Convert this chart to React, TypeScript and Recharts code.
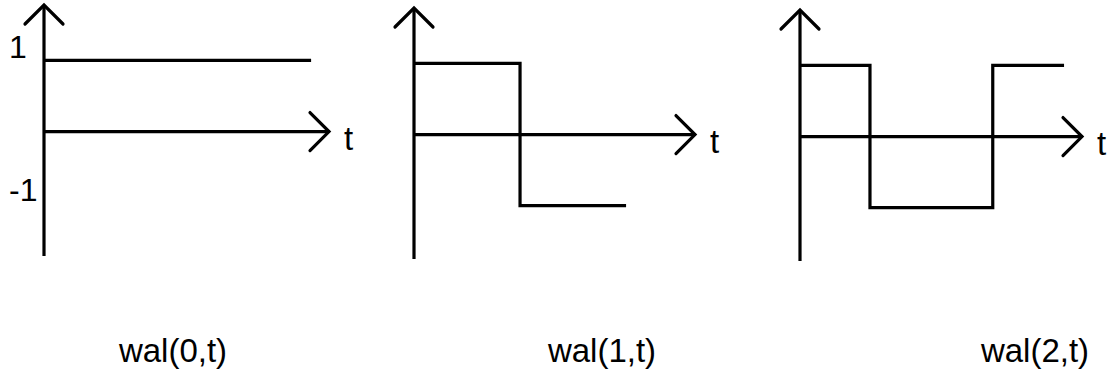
import { LineChart, Line, XAxis, YAxis, ReferenceLine } from "recharts";

// Walsh functions: breakpoints in t and the level that holds from each one on
const WAL0_T = [0, 1];
const WAL0_V = [1, 1];
const WAL1_T = [0, 0.5, 1];
const WAL1_V = [1, -1, -1];
const WAL2_T = [0, 0.265, 0.73, 1];
const WAL2_V = [1, -1, 1, 1];

const TITLES = ["wal(0,t)", "wal(1,t)", "wal(2,t)"];
const LEVEL_TICKS = [1, -1];
const AXIS_CAPTION = "t";

// where the t axis arrow ends, in units of t
const T_AXIS_END = [1.067, 1.325, 1.068];
const V_AXIS_TOP = 1.78;
const V_AXIS_BOTTOM = -1.75;

const INK = "#000";
const STROKE = 3.2;
const FONT = "'Liberation Sans', Arial, Helvetica, sans-serif";
const ARROW = 19;
const PLOT_H = 251;
const PAD = 6;

type Row = { t: number; v: number };

const toRows = (ts: number[], vs: number[]): Row[] =>
  ts.map((t, i) => ({ t, v: vs[i] }));

const SERIES = [
  toRows(WAL0_T, WAL0_V),
  toRows(WAL1_T, WAL1_V),
  toRows(WAL2_T, WAL2_V),
];

// origin x, plot top, plot width, title centre
const PANELS = [
  { originX: 44, top: 5, plotW: 285, titleX: 173, right: 40 },
  { originX: 414, top: 8, plotW: 281, titleX: 602, right: 40 },
  { originX: 800, top: 10, plotW: 282, titleX: 1035, right: 30 },
];

function arrowShape(caption?: string) {
  return (props: any) => {
    const { x1, y1, x2, y2 } = props;
    const len = Math.hypot(x2 - x1, y2 - y1) || 1;
    const ux = (x2 - x1) / len;
    const uy = (y2 - y1) / len;
    const bx = x2 - ux * ARROW;
    const by = y2 - uy * ARROW;
    const px = -uy * ARROW;
    const py = ux * ARROW;
    return (
      <g>
        <line x1={x1} y1={y1} x2={x2} y2={y2} stroke={INK} strokeWidth={STROKE} />
        <polyline
          points={`${bx + px},${by + py} ${x2},${y2} ${bx - px},${by - py}`}
          fill="none"
          stroke={INK}
          strokeWidth={STROKE}
          strokeLinecap="round"
        />
        {caption && (
          <text
            x={x2 + 15}
            y={y2 + 18}
            fontSize={33}
            fontFamily={FONT}
            fill={INK}
          >
            {caption}
          </text>
        )}
      </g>
    );
  };
}

function LevelTick({ x, y, payload }: any) {
  return (
    <text x={x - 35} y={y - 2} fontSize={32} fontFamily={FONT} fill={INK}>
      {String(payload.value)}
    </text>
  );
}

function WalshPanel({ index }: { index: number }) {
  const p = PANELS[index];
  const withLevels = index === 0;
  const leftPad = withLevels ? 0 : 25;
  const yAxisW = withLevels ? p.originX : 0;
  const left = withLevels ? 0 : p.originX - leftPad;
  const width = leftPad + yAxisW + p.plotW + p.right;
  const tEnd = T_AXIS_END[index];

  return (
    <div style={{ position: "absolute", left, top: p.top - PAD }}>
      <LineChart
        width={width}
        height={PLOT_H + PAD * 2}
        data={SERIES[index]}
        margin={{ top: PAD, bottom: PAD, left: leftPad, right: p.right }}
      >
        <XAxis
          type="number"
          dataKey="t"
          domain={[0, tEnd]}
          allowDataOverflow
          hide
        />
        <YAxis
          type="number"
          domain={[V_AXIS_BOTTOM, V_AXIS_TOP]}
          allowDataOverflow
          hide={!withLevels}
          width={yAxisW}
          ticks={LEVEL_TICKS}
          axisLine={false}
          tickLine={false}
          tickSize={0}
          tickMargin={0}
          tick={<LevelTick />}
        />
        <ReferenceLine
          segment={[
            { x: 0, y: V_AXIS_BOTTOM },
            { x: 0, y: V_AXIS_TOP },
          ]}
          ifOverflow="visible"
          shape={arrowShape()}
        />
        <ReferenceLine
          segment={[
            { x: 0, y: 0 },
            { x: tEnd, y: 0 },
          ]}
          ifOverflow="visible"
          shape={arrowShape(AXIS_CAPTION)}
        />
        <Line
          type="stepAfter"
          dataKey="v"
          stroke={INK}
          strokeWidth={STROKE}
          dot={false}
          activeDot={false}
          isAnimationActive={false}
        />
      </LineChart>
    </div>
  );
}

export default function App() {
  return (
    <div
      style={{
        position: "absolute",
        left: 0,
        top: 0,
        width: 1112,
        height: 377,
        overflow: "hidden",
        background: "#fff",
      }}
    >
      {PANELS.map((_, i) => (
        <WalshPanel key={i} index={i} />
      ))}
      {TITLES.map((title, i) => (
        <div
          key={title}
          style={{
            position: "absolute",
            left: PANELS[i].titleX - 100,
            top: 334,
            width: 200,
            textAlign: "center",
            fontFamily: FONT,
            fontSize: 33,
            lineHeight: "33px",
            color: INK,
          }}
        >
          {title}
        </div>
      ))}
    </div>
  );
}
